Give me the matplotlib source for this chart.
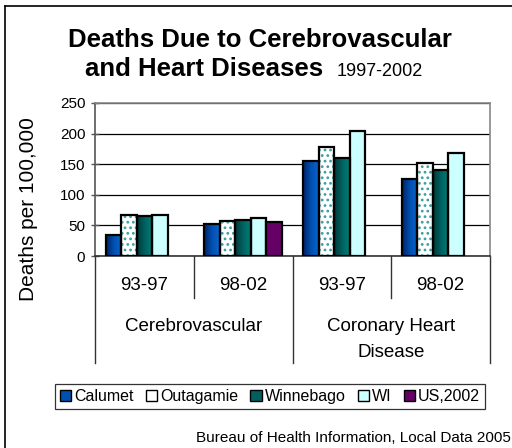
import numpy as np
import matplotlib
matplotlib.use("Agg")
import matplotlib.pyplot as plt
from matplotlib.colors import LinearSegmentedColormap
from matplotlib.patches import Patch
from matplotlib.lines import Line2D
import matplotlib.transforms as mtransforms

plt.rcParams['font.family'] = ['Liberation Sans', 'DejaVu Sans']
plt.rcParams['hatch.linewidth'] = 1.2

# data
periods = ['93-97', '98-02', '93-97', '98-02']
groups = ['Cerebrovascular', 'Coronary Heart\nDisease']
series = ['Calumet', 'Outagamie', 'Winnebago', 'WI', 'US,2002']
calumet = [35, 53, 156, 126]
outagamie = [67, 57, 178, 152]
winnebago = [66, 59, 160, 140]
wi = [67, 62, 205, 169]
us2002 = [np.nan, 56, np.nan, np.nan]
values = [calumet, outagamie, winnebago, wi, us2002]

W, H = 512, 448
fig = plt.figure(figsize=(W / 100, H / 100), dpi=100)
ax = fig.add_axes([95 / W, 1 - 256 / H, 395 / W, 153 / H])

x = np.arange(len(periods))
bw = 0.157
grad = np.linspace(0, 1, 64).reshape(1, -1)
cmaps = {
    'Calumet': LinearSegmentedColormap.from_list('c', ['#002266', '#0050b0', '#0a66cc']),
    'Winnebago': LinearSegmentedColormap.from_list('w', ['#003a3a', '#006060', '#00807a']),
}
solid = {'WI': '#ccffff', 'US,2002': '#660066', 'Outagamie': 'white'}

for i, (name, vals) in enumerate(zip(series, values)):
    xs = x + (i - 2) * bw
    if name in cmaps:
        bars = ax.bar(xs, vals, bw, facecolor='none', edgecolor='black', linewidth=1.6, zorder=4)
        for b in bars:
            h = b.get_height()
            if np.isnan(h):
                continue
            x0 = b.get_x()
            ax.imshow(grad, cmap=cmaps[name], aspect='auto', extent=[x0, x0 + bw, 0, h], zorder=3)
    elif name == 'Outagamie':
        ax.bar(xs, vals, bw, facecolor='white', edgecolor='#3a9f9f', hatch='...', linewidth=0, zorder=3)
        ax.bar(xs, vals, bw, facecolor='none', edgecolor='black', linewidth=1.6, zorder=4)
    else:
        ax.bar(xs, vals, bw, facecolor=solid[name], edgecolor='black', linewidth=1.6, zorder=3)

ax.set_xlim(-0.5, 3.5)
ax.set_ylim(0, 250)
ax.set_yticks(range(0, 251, 50))
ax.tick_params(axis='y', labelsize=11, length=6, width=1, color='#555555', pad=4, direction='inout')
ax.set_xticks([])
ax.yaxis.grid(True, color='black', linewidth=0.9)
ax.set_axisbelow(True)
for s in ['top', 'right']:
    ax.spines[s].set_color('#888888')
    ax.spines[s].set_linewidth(1.2)
ax.spines['left'].set_color('#555555')
ax.spines['left'].set_linewidth(1.2)
ax.spines['bottom'].set_color('#333333')
ax.spines['bottom'].set_linewidth(1.2)
ax.set_ylabel('Deaths per 100,000', fontsize=15)
ax.yaxis.set_label_coords(-0.145, 0.31)

# hierarchical category axis
tr = mtransforms.blended_transform_factory(ax.transData, ax.transAxes)
for b in [0.5, 2.5]:
    ax.add_line(Line2D([b, b], [0, -0.275], transform=tr, color='#333333', lw=1, clip_on=False))
for b in [-0.5, 1.5, 3.5]:
    ax.add_line(Line2D([b, b], [0, -0.70], transform=tr, color='#333333', lw=1, clip_on=False))
for xi, p in zip(x, periods):
    ax.text(xi, -0.19, p, transform=tr, ha='center', va='center', fontsize=13.5)
for gi, g in enumerate(groups):
    ax.text(gi * 2 + 0.5, -0.406, g, transform=tr, ha='center', va='top', fontsize=13.5,
            linespacing=1.65)

# title
fig.text(260 / W, 1 - 40 / H, 'Deaths Due to Cerebrovascular', ha='center', va='center',
         fontsize=18.5, fontweight='bold')
fig.text(204 / W, 1 - 69 / H, 'and Heart Diseases', ha='center', va='center',
         fontsize=18.5, fontweight='bold')
fig.text(337 / W, 1 - 71 / H, '1997-2002', ha='left', va='center', fontsize=13)

# legend
handles = [
    Patch(facecolor='#0050b0', edgecolor='black'),
    Patch(facecolor='white', edgecolor='black'),
    Patch(facecolor='#006060', edgecolor='black'),
    Patch(facecolor='#ccffff', edgecolor='black'),
    Patch(facecolor='#660066', edgecolor='black'),
]
leg = fig.legend(handles, series, loc='center', bbox_to_anchor=(270 / W, 1 - 396.5 / H),
                 ncol=5, fontsize=11.5, frameon=True, fancybox=False, edgecolor='black',
                 handlelength=0.7, handleheight=0.7, handletextpad=0.2, columnspacing=0.75,
                 borderpad=0.3, borderaxespad=0)
leg.get_frame().set_linewidth(0.9)

fig.text(511 / W, 1 - 438 / H, 'Bureau of Health Information, Local Data 2005',
         ha='right', va='center', fontsize=11)

# outer frame (left and top only visible)
fig.add_artist(Line2D([4.5 / W, 4.5 / W], [0, 1 - 6.5 / H], transform=fig.transFigure, color='black', lw=1.2))
fig.add_artist(Line2D([4.5 / W, 1], [1 - 6.5 / H, 1 - 6.5 / H], transform=fig.transFigure, color='black', lw=1.2))

fig.savefig('out.png', dpi=100)
